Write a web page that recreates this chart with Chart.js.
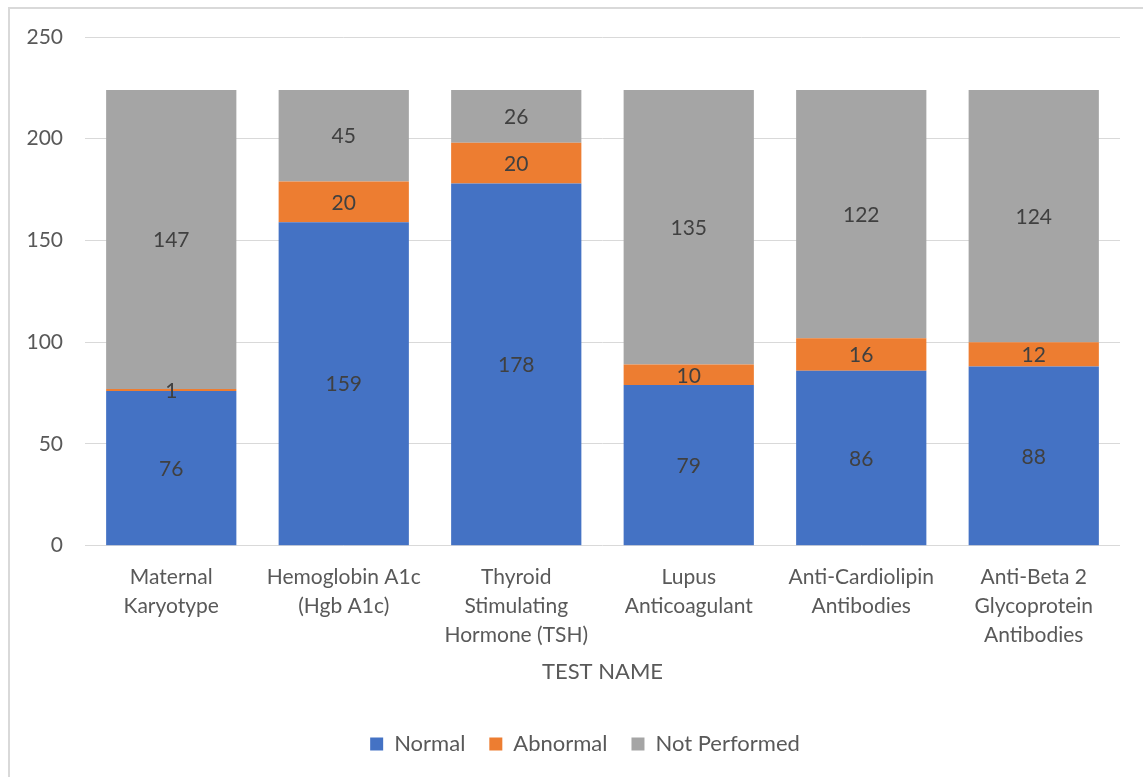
<!DOCTYPE html>
<html>
<head>
<meta charset="utf-8">
<script src="https://cdn.jsdelivr.net/npm/chart.js@4.4.1/dist/chart.umd.min.js"></script>
<style>
    html, body { margin: 0; padding: 0; background: #fff; overflow: hidden; }
    #frame { position: absolute; left: 8px; top: 7px; width: 1200px; height: 850px; border: 2px solid #d9d9d9; box-sizing: border-box; }
    #chart { position: absolute; left: 0; top: 0; }
</style>
</head>
<body>
<div id="frame"></div>
<canvas id="chart" width="1143" height="777"></canvas>
<script>
// dados do gráfico
const testNames = [
    ['Maternal', 'Karyotype'],
    ['Hemoglobin A1c', '(Hgb A1c)'],
    ['Thyroid', 'Stimulating', 'Hormone (TSH)'],
    ['Lupus', 'Anticoagulant'],
    ['Anti-Cardiolipin', 'Antibodies'],
    ['Anti-Beta 2', 'Glycoprotein', 'Antibodies']
];
const normal = [76, 159, 178, 79, 86, 88];
const abnormal = [1, 20, 20, 10, 16, 12];
const notPerformed = [147, 45, 26, 135, 122, 124];
const yTicks = [0, 50, 100, 150, 200, 250];

const textColor = '#595959';
const fontFamily = 'Lato, "Open Sans", sans-serif';

// rótulos no centro de cada segmento
const segmentLabels = {
    id: 'segmentLabels',
    afterDatasetsDraw(chart) {
        const ctx = chart.ctx;
        ctx.save();
        ctx.font = '21px ' + fontFamily;
        ctx.fillStyle = '#404040';
        ctx.textAlign = 'center';
        ctx.textBaseline = 'middle';
        chart.data.datasets.forEach((ds, i) => {
            const meta = chart.getDatasetMeta(i);
            meta.data.forEach((bar, j) => {
                const cy = (bar.y + bar.base) / 2;
                ctx.fillText(String(ds.data[j]), bar.x, cy + 1);
            });
        });
        ctx.restore();
    }
};

// desloca a legenda um pouco para a direita (centrada como no original)
const legendShift = {
    id: 'legendShift',
    afterLayout(chart) {
        if (chart.legend) {
            chart.legend.left += 25;
            chart.legend.right += 25;
        }
    }
};

new Chart(document.getElementById('chart').getContext('2d'), {
    type: 'bar',
    data: {
        labels: testNames,
        datasets: [
            { label: 'Normal', data: normal, backgroundColor: '#4472c4' },
            { label: 'Abnormal', data: abnormal, backgroundColor: '#ed7d31' },
            { label: 'Not Performed', data: notPerformed, backgroundColor: '#a5a5a5' }
        ]
    },
    options: {
        responsive: false,
        animation: false,
        layout: { padding: { top: 37, right: 23, left: 0, bottom: 12 } },
        datasets: { bar: { categoryPercentage: 1, barPercentage: 0.755, borderWidth: 0 } },
        plugins: {
            tooltip: { enabled: false },
            legend: {
                position: 'bottom',
                labels: {
                    boxWidth: 13,
                    boxHeight: 13,
                    padding: 24,
                    color: textColor,
                    font: { family: fontFamily, size: 22 }
                }
            }
        },
        scales: {
            x: {
                stacked: true,
                grid: { display: false },
                border: { display: false },
                ticks: {
                    color: textColor,
                    padding: 9,
                    maxRotation: 0,
                    autoSkip: false,
                    font: { family: fontFamily, size: 21, lineHeight: 1.38 }
                },
                title: {
                    display: true,
                    text: 'TEST NAME',
                    color: textColor,
                    padding: { top: 0, bottom: 24 },
                    font: { family: fontFamily, size: 22 }
                }
            },
            y: {
                stacked: true,
                min: 0,
                max: 250,
                afterFit(scale) { scale.width = 85; },
                afterBuildTicks(scale) { scale.ticks = yTicks.map(v => ({ value: v })); },
                grid: { color: '#d9d9d9', lineWidth: 1, drawTicks: false },
                border: { display: false },
                ticks: {
                    color: textColor,
                    padding: 22,
                    font: { family: fontFamily, size: 21 }
                }
            }
        }
    },
    plugins: [segmentLabels, legendShift]
});
</script>
</body>
</html>
